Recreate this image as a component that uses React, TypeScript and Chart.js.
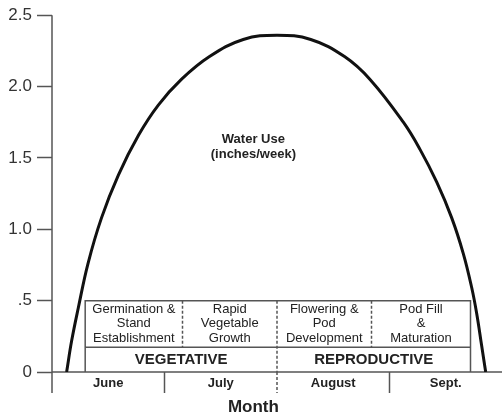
import { useEffect, useRef } from 'react';
import { Chart, registerables } from 'chart.js';

Chart.register(...registerables);

// ---- data ----
const monthNames = ['June', 'July', 'August', 'Sept.'];
const monthBounds = [0, 1, 2, 3, 4];
const curveX = [0.13, 0.175, 0.234, 0.32, 0.44, 0.59, 0.77, 0.945, 1.15, 1.4, 1.7, 2.0, 2.3, 2.6, 2.827, 3.123, 3.271, 3.42, 3.553, 3.656, 3.731, 3.775, 3.82, 3.855];
const waterUse = [0, 0.22, 0.45, 0.76, 1.08, 1.38, 1.66, 1.87, 2.05, 2.21, 2.33, 2.36, 2.33, 2.21, 2.05, 1.75, 1.56, 1.33, 1.08, 0.83, 0.59, 0.41, 0.18, 0];
const yTickValues = [0, 0.5, 1, 1.5, 2, 2.5];
const yTickLabels = ['0', '.5', '1.0', '1.5', '2.0', '2.5'];
const stageLabels = [
  ['Germination &', 'Stand', 'Establishment'],
  ['Rapid', 'Vegetable', 'Growth'],
  ['Flowering &', 'Pod', 'Development'],
  ['Pod Fill', '&', 'Maturation'],
];
const stageBounds = [0.295, 1.16, 2.0, 2.84, 3.72];
const phaseLabels = ['VEGETATIVE', 'REPRODUCTIVE'];
const phaseBounds = [0.295, 2.0, 3.72];
const boxTopValue = 0.5;
const phaseLineValue = 0.174;

const FONT = '"Liberation Sans", Arial, Helvetica, sans-serif';
const LINE = '#555';

const overlayPlugin = {
  id: 'overlay',
  beforeDatasetsDraw(chart: any) {
    const { ctx, chartArea, scales } = chart;
    const xs = scales.x;
    const ys = scales.y;
    const y0 = ys.getPixelForValue(0);
    const bottom = y0 + 21;
    ctx.save();
    ctx.strokeStyle = LINE;
    ctx.lineWidth = 1.5;
    // y axis
    ctx.beginPath();
    ctx.moveTo(chartArea.left, chartArea.top);
    ctx.lineTo(chartArea.left, bottom);
    ctx.stroke();
    // zero line
    ctx.beginPath();
    ctx.moveTo(chartArea.left, y0);
    ctx.lineTo(chartArea.right, y0);
    ctx.stroke();
    // month separators
    monthBounds.slice(1, -1).forEach((b) => {
      const px = xs.getPixelForValue(b);
      ctx.setLineDash(b === phaseBounds[1] ? [3, 2] : []);
      ctx.beginPath();
      ctx.moveTo(px, y0);
      ctx.lineTo(px, bottom);
      ctx.stroke();
    });
    ctx.setLineDash([]);
    // box
    const bl = xs.getPixelForValue(stageBounds[0]);
    const br = xs.getPixelForValue(stageBounds[stageBounds.length - 1]);
    const bt = ys.getPixelForValue(boxTopValue);
    const bm = ys.getPixelForValue(phaseLineValue);
    ctx.beginPath();
    ctx.moveTo(bl, y0);
    ctx.lineTo(bl, bt);
    ctx.lineTo(br, bt);
    ctx.lineTo(br, y0);
    ctx.moveTo(bl, bm);
    ctx.lineTo(br, bm);
    ctx.stroke();
    ctx.setLineDash([3, 2]);
    stageBounds.slice(1, -1).forEach((b) => {
      const px = xs.getPixelForValue(b);
      ctx.beginPath();
      ctx.moveTo(px, bt);
      ctx.lineTo(px, b === phaseBounds[1] ? y0 : bm);
      ctx.stroke();
    });
    ctx.setLineDash([]);
    // stage text
    ctx.fillStyle = '#222';
    ctx.textAlign = 'center';
    ctx.textBaseline = 'middle';
    ctx.font = `13px ${FONT}`;
    const rowC = (bt + bm) / 2;
    stageLabels.forEach((lines, i) => {
      const cx = (xs.getPixelForValue(stageBounds[i]) + xs.getPixelForValue(stageBounds[i + 1])) / 2;
      lines.forEach((t, j) => {
        ctx.fillText(t, cx, rowC + (j - 1) * 14.5);
      });
    });
    ctx.font = `bold 15px ${FONT}`;
    phaseLabels.forEach((t, i) => {
      const cx = (xs.getPixelForValue(phaseBounds[i]) + xs.getPixelForValue(phaseBounds[i + 1])) / 2;
      ctx.fillText(t, cx, (bm + y0) / 2);
    });
    // months
    ctx.font = `bold 13px ${FONT}`;
    monthNames.forEach((m, i) => {
      const cx = (xs.getPixelForValue(monthBounds[i]) + xs.getPixelForValue(monthBounds[i + 1])) / 2;
      ctx.fillText(m, cx, y0 + 11);
    });
    ctx.font = `bold 17px ${FONT}`;
    ctx.fillText('Month', xs.getPixelForValue(1.79), y0 + 35);
    // series label
    ctx.font = `bold 13px ${FONT}`;
    const lx = xs.getPixelForValue(1.79);
    const ly = ys.getPixelForValue(1.63);
    ctx.fillText('Water Use', lx, ly);
    ctx.fillText('(inches/week)', lx, ly + 15);
    ctx.restore();
  },
};

export default function App() {
  const ref = useRef<HTMLCanvasElement>(null);
  useEffect(() => {
    if (!ref.current) return;
    const chart = new Chart(ref.current, {
      type: 'scatter',
      data: {
        datasets: [
          {
            label: 'Water Use (inches/week)',
            data: curveX.map((x, i) => ({ x, y: waterUse[i] })),
            showLine: true,
            borderColor: '#111',
            borderWidth: 3,
            pointRadius: 0,
            tension: 0.4,
            fill: false,
          },
        ],
      },
      options: {
        animation: false,
        responsive: false,
        devicePixelRatio: 1,
        layout: { padding: { top: 13, bottom: 44, left: 0, right: 0 } },
        plugins: { legend: { display: false }, tooltip: { enabled: false } },
        scales: {
          x: { type: 'linear', min: 0, max: 4, display: false },
          y: {
            type: 'linear',
            min: 0,
            max: 2.5,
            afterFit: (s: any) => {
              s.width = 52;
            },
            afterBuildTicks: (s: any) => {
              s.ticks = yTickValues.map((v) => ({ value: v }));
            },
            ticks: {
              padding: 5,
              color: '#333',
              font: { family: FONT, size: 17 },
              callback: (v: any) => {
                const i = yTickValues.indexOf(Number(v));
                return i >= 0 ? yTickLabels[i] : '';
              },
            },
            grid: {
              drawOnChartArea: false,
              drawTicks: true,
              tickLength: 15,
              tickColor: LINE,
              tickWidth: 1.5,
            },
            border: { display: false },
          },
        },
      },
      plugins: [overlayPlugin],
    });
    return () => chart.destroy();
  }, []);
  return (
    <div style={{ position: 'fixed', left: 0, top: 0, width: 502, height: 416, background: '#fff' }}>
      <canvas ref={ref} width={502} height={416} />
    </div>
  );
}
